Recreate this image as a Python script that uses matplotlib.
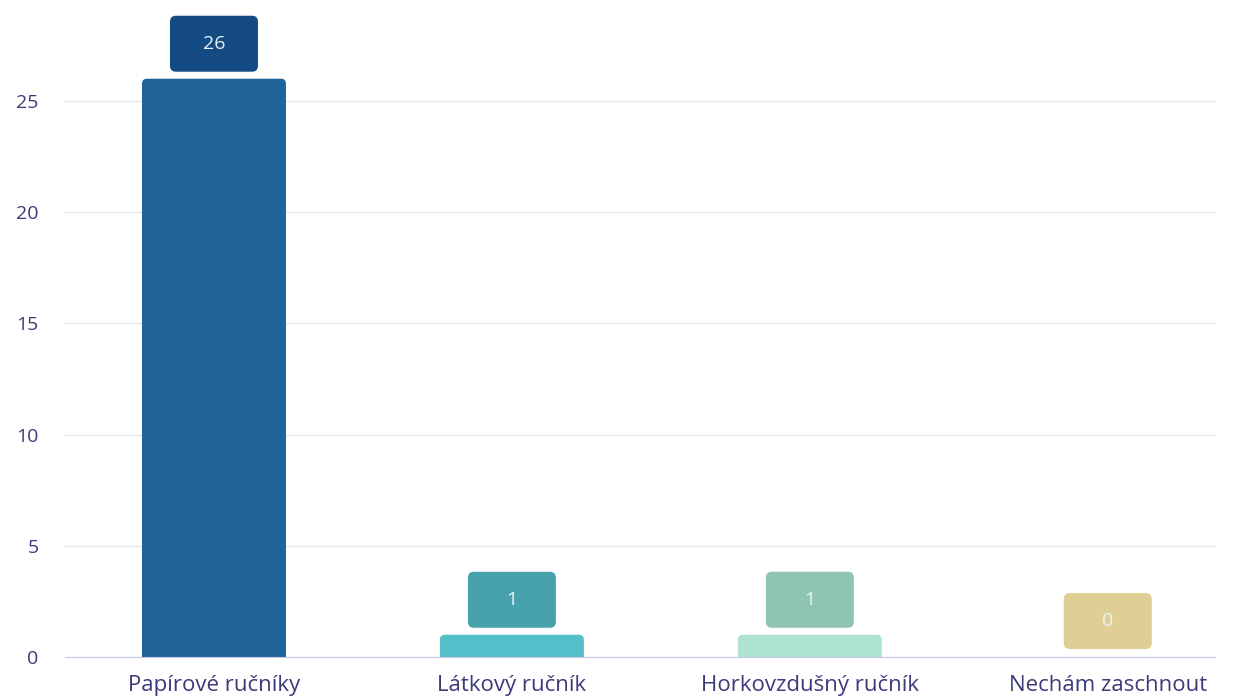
import numpy as np
import matplotlib.pyplot as plt
from matplotlib.patches import FancyBboxPatch

categories = ["Papírové ručníky", "Látkový ručník", "Horkovzdušný ručník", "Nechám zaschnout"]
values = [26, 1, 1, 0]
bar_colors = ["#1f6399", "#52bfc9", "#ade3d0", "#e9dca8"]
box_colors = ["#134b82", "#46a3ae", "#8fc4b3", "#dfcf94"]
yticks = [0, 5, 10, 15, 20, 25]

plt.rcParams['font.family'] = ['Open Sans', 'DejaVu Sans']

W, H, DPI = 1244, 697, 100
fig = plt.figure(figsize=(W / DPI, H / DPI), dpi=DPI)
# axes in pixel terms: left 65, right 1215, bottom 657, top 12
ax = fig.add_axes([65 / W, (H - 657) / H, (1215 - 65) / W, (657 - 12) / H])
ymax = 29.0
ax.set_xlim(-0.5, 3.36)
ax.set_ylim(0, ymax)

xpx = (1215 - 65) / (3.36 + 0.5)   # px per x unit
ypx = (657 - 12) / ymax            # px per y unit
aspect = xpx / ypx

def rbox(x0, y0, w, h, color, r_px, clip=True):
    p = FancyBboxPatch((x0, y0), w, h,
                       boxstyle="round,pad=0,rounding_size=%f" % (r_px / xpx),
                       mutation_aspect=aspect, fc=color, ec="none",
                       clip_on=clip, zorder=3)
    ax.add_patch(p)

bw = 144 / xpx
box_w = 88 / xpx
box_h = 56 / ypx
gap = 7 / ypx
for i, (v, c, bc) in enumerate(zip(values, bar_colors, box_colors)):
    if v > 0:
        rbox(i - bw / 2, -1, bw, v + 1, c, 5)
    by = v + gap if v > 0 else 8 / ypx
    rbox(i - box_w / 2, by, box_w, box_h, bc, 6, clip=False)
    ax.text(i, by + box_h / 2, str(v), ha="center", va="center",
            color="#eef3f7", fontsize=14, zorder=4)

ax.set_xticks(range(len(categories)))
ax.set_xticklabels(categories)
ax.set_yticks(yticks)
ax.tick_params(axis="x", length=0, pad=13, labelsize=16, labelcolor="#3d3a7a")
ax.tick_params(axis="y", length=0, pad=19, labelsize=14, labelcolor="#3d3a7a")
ax.grid(axis="y", color="#e6e6e6", linewidth=1)
ax.set_axisbelow(True)
for s in ["top", "right", "left"]:
    ax.spines[s].set_visible(False)
ax.spines["bottom"].set_color("#c5c8e8")
ax.spines["bottom"].set_zorder(5)

fig.savefig("out.png", dpi=DPI)
